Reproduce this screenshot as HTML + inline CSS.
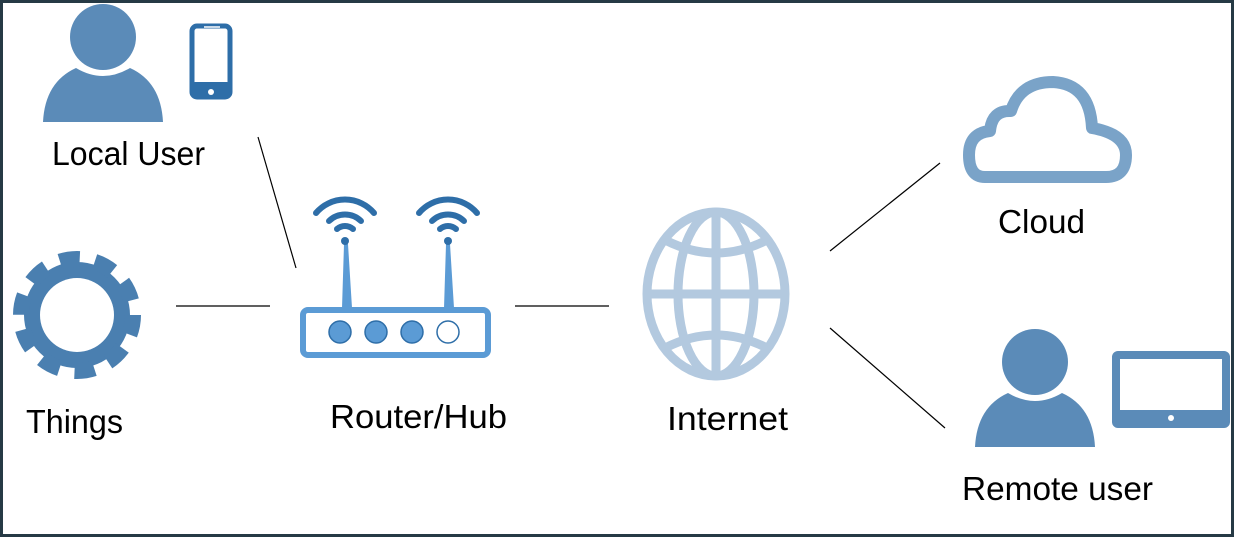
<!DOCTYPE html>
<html><head><meta charset="utf-8"><style>
html,body{margin:0;padding:0;background:#fff}
svg{display:block}
text{font-family:"Liberation Sans",sans-serif;font-size:33px;fill:#000}
</style></head><body>
<svg width="1234" height="537" viewBox="0 0 1234 537" xmlns="http://www.w3.org/2000/svg">
<rect x="1.5" y="1.5" width="1231" height="534" fill="#fff" stroke="#263a45" stroke-width="3"/>
<!-- local user -->
<circle cx="103" cy="37" r="33" fill="#5b8bb8"/>
<path d="M43 122 Q45 82 76 68 Q103 84 130 68 Q161 82 163 122 Z" fill="#5b8bb8"/>
<rect x="192" y="26" width="38" height="71" rx="5" fill="none" stroke="#2e6ea8" stroke-width="5"/>
<rect x="192" y="82" width="38" height="15" rx="3" fill="#2e6ea8"/>
<circle cx="211" cy="92" r="3" fill="#fff"/>
<line x1="204" y1="27" x2="220" y2="27" stroke="#fff" stroke-width="1.5"/>
<text x="52" y="165" textLength="153" lengthAdjust="spacingAndGlyphs">Local User</text>
<line x1="258" y1="137" x2="296" y2="268" stroke="#000" stroke-width="1.2"/>
<!-- gear -->
<circle cx="77" cy="315" r="53" fill="#4a7fb0"/>
<circle cx="77" cy="315" r="56" fill="none" stroke="#4a7fb0" stroke-width="16" stroke-dasharray="20 15.2"/>
<circle cx="77" cy="315" r="37" fill="#fff"/>
<text x="26" y="433" textLength="97" lengthAdjust="spacingAndGlyphs">Things</text>
<line x1="176" y1="306" x2="270" y2="306" stroke="#000" stroke-width="1.2"/>
<!-- router -->
<polygon points="342,308 352,308 348,244 344,244" fill="#5b9bd5"/>
<polygon points="444,308 454,308 450,244 446,244" fill="#5b9bd5"/>
<g fill="none" stroke="#2e6ea8" stroke-width="6" stroke-linecap="round">
<path d="M337 229 A12 12 0 0 1 353 229"/><path d="M329 221 A23 23 0 0 1 361 221"/><path d="M316 213 A38 38 0 0 1 374 213"/>
<path d="M440 229 A12 12 0 0 1 456 229"/><path d="M432 221 A23 23 0 0 1 464 221"/><path d="M419 213 A38 38 0 0 1 477 213"/>
</g>
<circle cx="345" cy="241" r="4" fill="#2e6ea8"/><circle cx="448" cy="241" r="4" fill="#2e6ea8"/>
<rect x="303" y="310" width="185" height="45" rx="5" fill="#fff" stroke="#5b9bd5" stroke-width="6"/>
<circle cx="340" cy="332" r="11" fill="#5b9bd5" stroke="#2e6ea8" stroke-width="1.5"/>
<circle cx="376" cy="332" r="11" fill="#5b9bd5" stroke="#2e6ea8" stroke-width="1.5"/>
<circle cx="412" cy="332" r="11" fill="#5b9bd5" stroke="#2e6ea8" stroke-width="1.5"/>
<circle cx="448" cy="332" r="11" fill="#fff" stroke="#2e6ea8" stroke-width="1.5"/>
<text x="330" y="428" textLength="177" lengthAdjust="spacingAndGlyphs">Router/Hub</text>
<line x1="515" y1="306" x2="609" y2="306" stroke="#000" stroke-width="1.2"/>
<!-- globe -->
<g fill="none" stroke="#b3c9df" stroke-width="9">
<ellipse cx="716" cy="294" rx="69" ry="82"/>
<ellipse cx="716" cy="294" rx="38" ry="82"/>
<line x1="716" y1="212" x2="716" y2="376"/>
<line x1="647" y1="294" x2="785" y2="294"/>
<path d="M665 240 Q716 266 767 240"/>
<path d="M665 348 Q716 322 767 348"/>
</g>
<text x="667" y="430" textLength="121" lengthAdjust="spacingAndGlyphs">Internet</text>
<line x1="830" y1="251" x2="940" y2="163" stroke="#000" stroke-width="1.2"/>
<line x1="830" y1="328" x2="945" y2="428" stroke="#000" stroke-width="1.2"/>
<!-- cloud -->
<path d="M985 177 Q969 177 969 155 Q969 133 990 131 Q992 110 1011 111 Q1020 82 1053 82 Q1090 84 1092 128 Q1126 134 1126 155 Q1126 177 1106 177 Z" fill="none" stroke="#7aa3c8" stroke-width="12" stroke-linejoin="round"/>
<text x="998" y="233" textLength="87" lengthAdjust="spacingAndGlyphs">Cloud</text>
<!-- remote user -->
<circle cx="1035" cy="362" r="33" fill="#5b8bb8"/>
<path d="M975 447 Q977 407 1008 393 Q1035 409 1062 393 Q1093 407 1095 447 Z" fill="#5b8bb8"/>
<rect x="1116" y="355" width="110" height="69" rx="2" fill="none" stroke="#5b8bb8" stroke-width="8"/>
<rect x="1116" y="410" width="110" height="14" fill="#5b8bb8"/>
<circle cx="1171" cy="418" r="3" fill="#fff"/>
<text x="962" y="500" textLength="191" lengthAdjust="spacingAndGlyphs">Remote user</text>
</svg>
</body></html>
